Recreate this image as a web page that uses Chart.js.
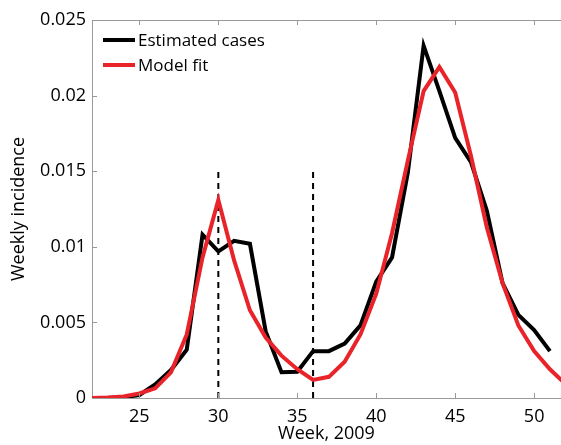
<!DOCTYPE html>
<html>
<head>
<meta charset="utf-8">
<script src="https://cdn.jsdelivr.net/npm/chart.js@4/dist/chart.umd.min.js"></script>
<style>
  html, body { margin: 0; padding: 0; background: #fff; }
  #wrap { width: 561px; height: 445px; }
</style>
</head>
<body>
<div id="wrap"><canvas id="chart"></canvas></div>
<script>
// weeks of 2009
const weeks = [22, 23, 24, 25, 26, 27, 28, 29, 30, 31, 32, 33, 34, 35, 36, 37,
               38, 39, 40, 41, 42, 43, 44, 45, 46, 47, 48, 49, 50, 51, 52];

const estimated = [0, 0, 0.00005, 0.0002, 0.0009, 0.00185, 0.0032, 0.0108, 0.0097, 0.0104,
                   0.0102, 0.0044, 0.0017, 0.00174, 0.0031, 0.0031, 0.0036, 0.0048, 0.0077,
                   0.0093, 0.0149, 0.0233, 0.0203, 0.0172, 0.0156, 0.0124, 0.0076, 0.0055,
                   0.0045, 0.0031, null];

const modelFit = [0, 0.00003, 0.0001, 0.0003, 0.00064, 0.0017, 0.0042, 0.0093, 0.0131, 0.0091,
                  0.0058, 0.004, 0.0028, 0.0019, 0.0012, 0.0014, 0.0024, 0.0042, 0.0069,
                  0.0109, 0.0157, 0.0203, 0.0219, 0.0202, 0.016, 0.0113, 0.0076, 0.0048,
                  0.0031, 0.0019, 0.0009];

const markerWeeks = [30, 36];
const markerTop = 0.015;

const xTicks = [25, 30, 35, 40, 45, 50];
const yTicks = [0, 0.005, 0.01, 0.015, 0.02, 0.025];
const yTickLabels = ['0', '0.005', '0.01', '0.015', '0.02', '0.025'];

const FONT = '"Open Sans", "DejaVu Sans", sans-serif';

const pts = (ys) => weeks.map((w, i) => ({ x: w, y: ys[i] }));

// lower order is drawn on top
const datasets = markerWeeks.map(w => ({
  label: 'marker',
  data: [{ x: w, y: 0 }, { x: w, y: markerTop }],
  borderColor: '#000',
  borderWidth: 2,
  borderDash: [6, 5],
  pointRadius: 0,
  order: 3
}));
datasets.push({
  label: 'Estimated cases',
  data: pts(estimated),
  borderColor: '#000',
  borderWidth: 4,
  pointRadius: 0,
  tension: 0,
  order: 2
});
datasets.push({
  label: 'Model fit',
  data: pts(modelFit),
  borderColor: '#e8232a',
  borderWidth: 4,
  pointRadius: 0,
  tension: 0,
  order: 1
});

// inward tick marks and top border, matlab style
const axesDecor = {
  id: 'axesDecor',
  afterDraw(chart) {
    const { ctx, chartArea: a, scales } = chart;
    ctx.save();
    ctx.strokeStyle = '#999';
    ctx.lineWidth = 1;
    ctx.beginPath();
    xTicks.forEach(t => {
      const x = Math.round(scales.x.getPixelForValue(t)) + 0.5;
      ctx.moveTo(x, a.bottom); ctx.lineTo(x, a.bottom - 5);
      ctx.moveTo(x, a.top); ctx.lineTo(x, a.top + 5);
    });
    yTicks.forEach(t => {
      const y = Math.round(scales.y.getPixelForValue(t)) + 0.5;
      ctx.moveTo(a.left, y); ctx.lineTo(a.left + 5, y);
    });
    ctx.moveTo(a.left, a.top + 0.5); ctx.lineTo(a.right, a.top + 0.5);
    ctx.stroke();
    ctx.restore();
  }
};

// legend inside the axes
const innerLegend = {
  id: 'innerLegend',
  afterDraw(chart) {
    const { ctx, chartArea: a } = chart;
    const items = chart.data.datasets.filter(d => d.label !== 'marker');
    ctx.save();
    ctx.font = '17px ' + FONT;
    ctx.textBaseline = 'middle';
    items.forEach((d, i) => {
      const y = a.top + 20 + i * 25;
      ctx.strokeStyle = d.borderColor;
      ctx.lineWidth = 4;
      ctx.beginPath();
      ctx.moveTo(a.left + 11, y); ctx.lineTo(a.left + 43, y);
      ctx.stroke();
      ctx.fillStyle = '#000';
      ctx.fillText(d.label, a.left + 46, y + 1);
    });
    ctx.restore();
  }
};

new Chart(document.getElementById('chart'), {
  type: 'line',
  data: { datasets },
  options: {
    responsive: true,
    maintainAspectRatio: false,
    animation: false,
    layout: { padding: { top: 20, right: 0, left: 8, bottom: 0 } },
    plugins: { legend: { display: false }, tooltip: { enabled: false } },
    scales: {
      x: {
        type: 'linear',
        min: 22,
        max: 51.7,
        afterBuildTicks: s => { s.ticks = xTicks.map(v => ({ value: v })); },
        afterFit: s => { s.height = 47; },
        grid: { display: false, drawTicks: false },
        border: { color: '#999', width: 1 },
        ticks: { color: '#000', font: { family: FONT, size: 18 }, padding: 8, maxRotation: 0 },
        title: { display: true, text: 'Week, 2009', color: '#000', font: { family: FONT, size: 18 }, padding: { top: -7, bottom: 0 } }
      },
      y: {
        min: 0,
        max: 0.025,
        afterBuildTicks: s => { s.ticks = yTicks.map(v => ({ value: v })); },
        afterFit: s => { s.width = 84; },
        grid: { display: false, drawTicks: false },
        border: { color: '#999', width: 1 },
        ticks: {
          color: '#000',
          font: { family: FONT, size: 18 },
          padding: 6,
          callback: (v) => yTickLabels[yTicks.indexOf(v)] ?? ''
        },
        title: { display: true, text: 'Weekly incidence', color: '#000', font: { family: FONT, size: 18 }, padding: { top: 0, bottom: 0 } }
      }
    }
  },
  plugins: [axesDecor, innerLegend]
});
</script>
</body>
</html>
